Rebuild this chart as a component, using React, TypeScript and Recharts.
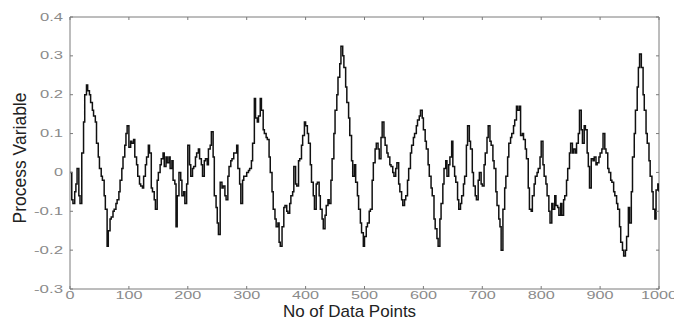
import React from 'react';
import { LineChart, Line, XAxis, YAxis, ReferenceLine, Label } from 'recharts';

const X_VALUES = [
  0, 3, 5, 8, 10, 12, 15, 17, 20, 23, 25, 28, 30, 33, 35, 38, 40, 43, 45, 48,
  50, 53, 55, 58, 60, 63, 65, 68, 70, 73, 75, 78, 80, 83, 85, 88, 90, 93, 95, 97,
  100, 103, 105, 108, 110, 113, 115, 118, 120, 123, 125, 128, 130, 133, 135, 138, 140, 143, 145, 148,
  150, 153, 155, 158, 160, 163, 165, 168, 170, 173, 175, 178, 180, 182, 185, 188, 190, 193, 195, 198,
  200, 203, 205, 208, 210, 213, 215, 218, 220, 223, 225, 228, 230, 233, 235, 238, 240, 243, 245, 248,
  250, 252, 255, 258, 260, 263, 265, 268, 270, 273, 275, 278, 280, 283, 285, 288, 290, 293, 295, 298,
  300, 303, 305, 308, 310, 313, 315, 318, 320, 323, 325, 328, 330, 333, 335, 338, 340, 343, 345, 348,
  350, 353, 355, 357, 360, 363, 365, 368, 370, 373, 375, 378, 380, 383, 385, 388, 390, 393, 395, 398,
  400, 403, 405, 408, 410, 413, 415, 418, 420, 423, 425, 428, 430, 433, 435, 438, 440, 443, 445, 448,
  450, 453, 455, 458, 460, 463, 465, 468, 470, 473, 475, 478, 480, 483, 485, 488, 490, 493, 495, 498,
  500, 503, 505, 508, 510, 513, 515, 518, 520, 523, 525, 528, 530, 533, 535, 538, 540, 543, 545, 548,
  550, 553, 555, 558, 560, 563, 565, 568, 570, 573, 575, 578, 580, 583, 585, 588, 590, 593, 595, 598,
  600, 603, 605, 608, 610, 613, 615, 618, 620, 623, 625, 628, 630, 633, 635, 638, 640, 643, 645, 648,
  650, 653, 655, 658, 660, 663, 665, 668, 670, 673, 675, 678, 680, 683, 685, 688, 690, 693, 695, 698,
  700, 703, 705, 708, 710, 713, 715, 718, 720, 723, 725, 728, 730, 732, 735, 738, 740, 743, 745, 748,
  750, 753, 755, 758, 760, 763, 765, 768, 770, 773, 775, 778, 780, 783, 785, 788, 790, 793, 795, 798,
  800, 803, 805, 808, 810, 813, 815, 818, 820, 823, 825, 828, 830, 833, 835, 838, 840, 843, 845, 848,
  850, 853, 855, 858, 860, 863, 865, 868, 870, 873, 875, 878, 880, 882, 885, 888, 890, 893, 895, 898,
  900, 903, 905, 908, 910, 913, 915, 918, 920, 923, 925, 928, 930, 933, 935, 938, 940, 943, 945, 948,
  950, 953, 955, 958, 960, 963, 965, 967, 970, 973, 975, 978, 980, 983, 985, 988, 990, 993, 995, 998,
  1000,
];

const Y_VALUES = [
  0.0, -0.07, -0.08, -0.05, -0.03, 0.01, -0.06, -0.08, 0.05, 0.13, 0.2, 0.225, 0.21, 0.2, 0.18, 0.16, 0.145, 0.13, 0.075, 0.04,
  0.01, -0.01, -0.02, -0.06, -0.095, -0.19, -0.15, -0.12, -0.115, -0.1, -0.095, -0.08, -0.07, -0.05, -0.02, 0.01, 0.04, 0.07, 0.1, 0.12,
  0.065, 0.08, 0.075, 0.085, 0.04, 0.02, -0.01, -0.03, -0.035, -0.04, -0.01, 0.02, 0.04, 0.07, 0.05, -0.04, -0.05, -0.07, -0.095, -0.02,
  0.0, 0.02, 0.035, 0.05, 0.015, 0.04, 0.025, 0.04, 0.01, 0.03, -0.02, -0.03, -0.14, -0.06, 0.0, -0.02, -0.06, -0.05, -0.08, -0.03,
  0.07, 0.02, -0.01, 0.01, 0.015, 0.04, 0.05, 0.06, 0.035, 0.02, -0.01, 0.03, 0.035, 0.02, 0.06, 0.07, 0.105, 0.04, -0.06, -0.09,
  -0.13, -0.16, -0.025, -0.04, -0.035, -0.06, -0.07, -0.01, 0.015, 0.03, 0.035, 0.05, 0.05, 0.07, 0.01, -0.03, -0.08, -0.02, -0.01, -0.01,
  0.0, 0.005, 0.01, 0.03, 0.075, 0.19, 0.14, 0.13, 0.145, 0.19, 0.16, 0.11, 0.1, 0.09, 0.085, 0.04, 0.0, -0.05, -0.095, -0.12,
  -0.14, -0.13, -0.18, -0.19, -0.14, -0.09, -0.085, -0.1, -0.105, -0.08, -0.06, -0.05, 0.015, -0.03, -0.035, 0.03, 0.035, 0.07, 0.095, 0.13,
  0.12, 0.1, 0.075, 0.02, -0.025, -0.06, -0.095, -0.03, -0.025, -0.06, -0.095, -0.12, -0.145, -0.11, -0.085, -0.07, -0.08, -0.02, 0.035, 0.1,
  0.16, 0.2, 0.245, 0.28, 0.325, 0.3, 0.27, 0.22, 0.18, 0.14, 0.095, 0.03, -0.01, 0.02, -0.025, -0.06, -0.095, -0.13, -0.155, -0.19,
  -0.165, -0.14, -0.13, -0.1, -0.095, -0.02, 0.025, 0.06, 0.075, 0.06, 0.035, 0.09, 0.13, 0.09, 0.07, 0.05, 0.04, 0.02, 0.015, 0.0,
  -0.01, 0.01, 0.025, -0.03, -0.05, -0.07, -0.085, -0.07, -0.06, -0.02, 0.01, 0.05, 0.07, 0.09, 0.1, 0.12, 0.135, 0.145, 0.16, 0.14,
  0.11, 0.08, 0.06, 0.02, -0.01, -0.04, -0.06, -0.12, -0.145, -0.17, -0.19, -0.12, -0.08, -0.03, 0.01, 0.03, -0.01, 0.02, 0.04, 0.08,
  0.015, -0.01, -0.025, -0.07, -0.095, -0.08, -0.06, -0.03, -0.01, 0.07, 0.12, 0.08, 0.06, 0.0, -0.035, -0.06, -0.07, -0.02, 0.0, -0.03,
  -0.035, 0.02, 0.05, 0.09, 0.12, 0.08, 0.07, 0.03, 0.01, -0.05, -0.085, -0.12, -0.14, -0.2, -0.095, -0.04, -0.01, 0.04, 0.075, 0.09,
  0.1, 0.12, 0.135, 0.17, 0.16, 0.17, 0.095, 0.1, 0.085, 0.06, 0.035, -0.04, -0.095, -0.1, -0.06, -0.03, -0.01, 0.0, 0.01, 0.04,
  0.08, 0.02, -0.01, -0.03, -0.06, -0.1, -0.13, -0.08, -0.095, -0.06, -0.085, -0.09, -0.11, -0.08, -0.11, -0.07, -0.06, -0.02, 0.01, 0.05,
  0.075, 0.05, 0.06, 0.05, 0.075, 0.1, 0.16, 0.11, 0.075, 0.12, 0.11, 0.05, 0.015, -0.04, 0.035, 0.03, 0.04, 0.02, 0.025, 0.04,
  0.05, 0.06, 0.1, 0.06, 0.05, 0.01, 0.0, -0.02, -0.025, -0.05, -0.06, -0.08, -0.095, -0.14, -0.18, -0.2, -0.215, -0.2, -0.165, -0.09,
  -0.13, -0.05, 0.04, 0.1, 0.16, 0.22, 0.27, 0.305, 0.27, 0.2, 0.16, 0.1, 0.075, 0.03, -0.01, -0.05, -0.095, -0.12, -0.045, -0.03,
  -0.05,
];

const X_TICKS = [0, 100, 200, 300, 400, 500, 600, 700, 800, 900, 1000];
const X_TICK_LABELS = ['0', '100', '200', '300', '400', '500', '600', '700', '800', '900', '1000'];
const Y_TICKS = [-0.3, -0.2, -0.1, 0, 0.1, 0.2, 0.3, 0.4];
const Y_TICK_LABELS = ['-0.3', '-0.2', '-0.1', '0', '0.1', '0.2', '0.3', '0.4'];
const X_TITLE = 'No of Data Points';
const Y_TITLE = 'Process Variable';

const data = X_VALUES.map((x, i) => ({ x, y: Y_VALUES[i] }));

const PLOT_W = 589;
const PLOT_H = 272;
const AXIS_COLOR = '#7a7a7a';
const TICK_TEXT = '#8a8a8a';
const FONT = '"Liberation Sans", Arial, sans-serif';

const charW = (c: string) => (c === '.' ? 5 : c === '-' ? 6 : 9);
const stretch = (s: string) => s.split('').reduce((a, c) => a + charW(c), 0);

function findLabel(ticks: number[], labels: string[], v: number) {
  const i = ticks.findIndex((t) => Math.abs(t - v) < 1e-9);
  return i >= 0 ? labels[i] : String(v);
}

function XTick(props: any) {
  const { x, y, payload } = props;
  const label = findLabel(X_TICKS, X_TICK_LABELS, payload.value);
  return (
    <g>
      <line x1={x} x2={x} y1={y} y2={y - 3} stroke={AXIS_COLOR} />
      <line x1={x} x2={x} y1={y - PLOT_H} y2={y - PLOT_H + 3} stroke={AXIS_COLOR} />
      <text
        x={x}
        y={y + 10}
        textAnchor="middle"
        fontSize={10}
        fontFamily={FONT}
        fill={TICK_TEXT}
        textLength={stretch(label)}
        lengthAdjust="spacingAndGlyphs"
      >
        {label}
      </text>
    </g>
  );
}

function YTick(props: any) {
  const { x, y, payload } = props;
  const label = findLabel(Y_TICKS, Y_TICK_LABELS, payload.value);
  return (
    <g>
      <line x1={x} x2={x + 3} y1={y} y2={y} stroke={AXIS_COLOR} />
      <line x1={x + PLOT_W} x2={x + PLOT_W - 3} y1={y} y2={y} stroke={AXIS_COLOR} />
      <text
        x={x - 7}
        y={y + 3.5}
        textAnchor="end"
        fontSize={10}
        fontFamily={FONT}
        fill={TICK_TEXT}
        textLength={stretch(label)}
        lengthAdjust="spacingAndGlyphs"
      >
        {label}
      </text>
    </g>
  );
}

function XTitle(props: any) {
  const vb = props.viewBox || { x: 70, y: 289, width: PLOT_W, height: 31 };
  return (
    <text
      x={vb.x + vb.width / 2 - 15}
      y={vb.y + 28}
      textAnchor="middle"
      fontSize={17}
      fontFamily={FONT}
      fill="#222"
    >
      {X_TITLE}
    </text>
  );
}

function YTitle(props: any) {
  const vb = props.viewBox || { x: 0, y: 17, width: 70, height: PLOT_H };
  const cx = vb.x + 26;
  const cy = vb.y + vb.height / 2 + 5;
  return (
    <text
      x={cx}
      y={cy}
      transform={`rotate(-90, ${cx}, ${cy})`}
      textAnchor="middle"
      fontSize={17.5}
      fontFamily={FONT}
      fill="#222"
    >
      {Y_TITLE}
    </text>
  );
}

export default function App() {
  return (
    <div style={{ position: 'absolute', left: 0, top: 0, width: 674, height: 320, background: '#fff' }}>
      <LineChart width={674} height={320} data={data} margin={{ top: 17, right: 15, bottom: 0, left: 0 }}>
        <XAxis
          dataKey="x"
          type="number"
          domain={[0, 1000]}
          ticks={X_TICKS}
          interval={0}
          height={31}
          tickSize={0}
          tickMargin={0}
          tickLine={false}
          axisLine={{ stroke: AXIS_COLOR }}
          tick={<XTick />}
          allowDataOverflow
        >
          <Label content={<XTitle />} />
        </XAxis>
        <YAxis
          type="number"
          domain={[-0.3, 0.4]}
          ticks={Y_TICKS}
          interval={0}
          width={70}
          tickSize={0}
          tickMargin={0}
          tickLine={false}
          axisLine={{ stroke: AXIS_COLOR }}
          tick={<YTick />}
          allowDataOverflow
        >
          <Label content={<YTitle />} />
        </YAxis>
        <ReferenceLine y={0.4} stroke={AXIS_COLOR} />
        <ReferenceLine x={1000} stroke={AXIS_COLOR} />
        <Line
          type="stepAfter"
          dataKey="y"
          stroke="#111"
          strokeWidth={1.5}
          dot={false}
          isAnimationActive={false}
        />
      </LineChart>
    </div>
  );
}
